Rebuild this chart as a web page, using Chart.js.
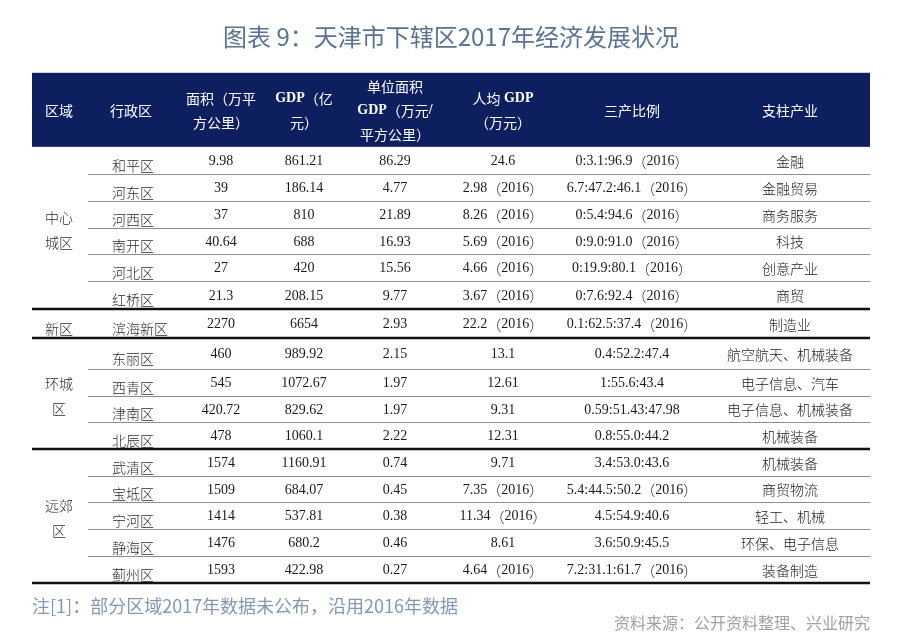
<!DOCTYPE html>
<html><head><meta charset="utf-8">
<script src="https://cdn.jsdelivr.net/npm/chart.js@4"></script>
<style>html,body{margin:0;padding:0;background:#fff;}#wrap{width:900px;height:643px;position:relative;}</style>
</head><body><div id="wrap"><canvas id="c" width="900" height="643"></canvas></div>
<script>
// ---------- data ----------
const regions = [['中心','城区'], ['新区'], ['环城','区'], ['远郊','区']];
const regionSizes = [6, 1, 4, 5];
const districts = ['和平区','河东区','河西区','南开区','河北区','红桥区','滨海新区','东丽区','西青区','津南区','北辰区','武清区','宝坻区','宁河区','静海区','蓟州区'];
const area = [9.98, 39, 37, 40.64, 27, 21.3, 2270, 460, 545, 420.72, 478, 1574, 1509, 1414, 1476, 1593];
const gdp = [861.21, 186.14, 810, 688, 420, 208.15, 6654, 989.92, 1072.67, 829.62, 1060.1, 1160.91, 684.07, 537.81, 680.2, 422.98];
const gdpPerArea = [86.29, 4.77, 21.89, 16.93, 15.56, 9.77, 2.93, 2.15, 1.97, 1.97, 2.22, 0.74, 0.45, 0.38, 0.46, 0.27];
const gdpPerCapita = [24.6, 2.98, 8.26, 5.69, 4.66, 3.67, 22.2, 13.1, 12.61, 9.31, 12.31, 9.71, 7.35, 11.34, 8.61, 4.64];
const perCapitaYear2016 = [false, true, true, true, true, true, true, false, false, false, false, false, true, true, false, true];
const industryRatio = ['0:3.1:96.9（2016）','6.7:47.2:46.1（2016）','0:5.4:94.6（2016）','0:9.0:91.0（2016）','0:19.9:80.1（2016）','0:7.6:92.4（2016）','0.1:62.5:37.4（2016）','0.4:52.2:47.4','1:55.6:43.4','0.59:51.43:47.98','0.8:55.0:44.2','3.4:53.0:43.6','5.4:44.5:50.2（2016）','4.5:54.9:40.6','3.6:50.9:45.5','7.2:31.1:61.7（2016）'];
const pillarIndustry = ['金融','金融贸易','商务服务','科技','创意产业','商贸','制造业','航空航天、机械装备','电子信息、汽车','电子信息、机械装备','机械装备','机械装备','商贸物流','轻工、机械','环保、电子信息','装备制造'];
const headers = [['区域'], ['行政区'], ['面积（万平','方公里）'], ['GDP（亿','元）'], ['单位面积','GDP（万元/','平方公里）'], ['人均 GDP','（万元）'], ['三产比例'], ['支柱产业']];
const titleText = '图表 9：天津市下辖区2017年经济发展状况';
const noteText = '注[1]：部分区域2017年数据未公布，沿用2016年数据';
const sourceText = '资料来源：公开资料整理、兴业研究';

// ---------- layout (scale units) ----------
const L = {
  width: 838, height: 510, headerH: 74,
  colX: [27, 99, 189, 272, 363, 471, 600, 758],
  nameX: 80, thinStart: 56,
  rowEdges: [74,101,128,155,181,208,236,265,296,323,349,376,403,429,456,483,510]
};

const columns = [
  area.map(String),
  gdp.map(String),
  gdpPerArea.map(String),
  gdpPerCapita.map((v, i) => String(v) + (perCapitaYear2016[i] ? '（2016）' : '')),
  industryRatio,
  pillarIndustry
];
const mid = i => (L.rowEdges[i] + L.rowEdges[i + 1]) / 2;

const datasets = [];
datasets.push({ label: 'districts', texts: districts, kind: 'name',
  data: districts.map((d, i) => ({ x: L.nameX, y: mid(i) })) });
columns.forEach((col, c) => datasets.push({ label: 'col' + c, texts: col, kind: 'value',
  data: col.map((v, i) => ({ x: L.colX[c + 2], y: mid(i) })) }));
let start = 0; const regionPts = [];
regionSizes.forEach(n => { regionPts.push({ x: L.colX[0], y: (L.rowEdges[start] + L.rowEdges[start + n]) / 2 }); start += n; });
datasets.push({ label: 'regions', texts: regions, kind: 'region', data: regionPts });
datasets.push({ label: 'headers', texts: headers, kind: 'header',
  data: headers.map((h, c) => ({ x: L.colX[c], y: L.headerH / 2 })) });
datasets.forEach(d => { d.pointRadius = 0; d.pointHoverRadius = 0; d.showLine = false; });

const SERIF = '"Liberation Serif", serif';
const CJK = '"Noto Sans CJK SC", "Noto Sans", sans-serif';

function drawMixed(ctx, text, x, y, align, latinFont, cjkFont) {
  const runs = [];
  const re = /[\u2E80-\u9FFF\uFF00-\uFFEF\u3000-\u303F]+|[^\u2E80-\u9FFF\uFF00-\uFFEF\u3000-\u303F]+/g;
  let m;
  while ((m = re.exec(text))) {
    const isCjk = /[\u2E80-\u9FFF\uFF00-\uFFEF\u3000-\u303F]/.test(m[0]);
    runs.push({ t: m[0], f: isCjk ? cjkFont : latinFont });
  }
  let total = 0;
  runs.forEach(r => { ctx.font = r.f; r.w = ctx.measureText(r.t).width; total += r.w; });
  let cx = align === 'center' ? x - total / 2 : (align === 'right' ? x - total : x);
  ctx.textAlign = 'left';
  runs.forEach(r => { ctx.font = r.f; ctx.fillText(r.t, cx, y); cx += r.w; });
}

const tablePlugin = {
  id: 'tablePlugin',
  beforeDatasetsDraw(chart) {
    const { ctx, scales: { x, y } } = chart;
    const x0 = x.getPixelForValue(0), x1 = x.getPixelForValue(L.width);
    ctx.save();
    ctx.fillStyle = '#0e1f5f';
    const hy0 = y.getPixelForValue(0), hy1 = y.getPixelForValue(L.headerH);
    ctx.fillRect(x0, hy0, x1 - x0, hy1 - hy0);
    const groupEnds = new Set(); let s = 0;
    regionSizes.forEach(n => { s += n; groupEnds.add(s); });
    for (let i = 1; i < L.rowEdges.length; i++) {
      const py = Math.round(y.getPixelForValue(L.rowEdges[i]));
      if (groupEnds.has(i)) {
        ctx.strokeStyle = '#111'; ctx.lineWidth = 2.5;
        ctx.beginPath(); ctx.moveTo(x0, py); ctx.lineTo(x1, py); ctx.stroke();
      } else {
        ctx.strokeStyle = '#8e8e8e'; ctx.lineWidth = 1;
        ctx.beginPath(); ctx.moveTo(x.getPixelForValue(L.thinStart), py + 0.5); ctx.lineTo(x1, py + 0.5); ctx.stroke();
      }
    }
    ctx.restore();
  },
  afterDatasetsDraw(chart) {
    const { ctx } = chart;
    ctx.save();
    ctx.textBaseline = 'middle';
    const bodyLatin = '14px ' + SERIF, bodyCjk = '300 14px ' + CJK;
    chart.data.datasets.forEach((ds, di) => {
      const meta = chart.getDatasetMeta(di);
      meta.data.forEach((pt, i) => {
        const t = ds.texts[i];
        if (ds.kind === 'name') {
          ctx.fillStyle = '#2a2a2a';
          drawMixed(ctx, t, pt.x, pt.y + 5, 'left', bodyLatin, bodyCjk);
        } else if (ds.kind === 'value') {
          ctx.fillStyle = '#1a1a1a';
          drawMixed(ctx, t, pt.x, pt.y + 1, 'center', bodyLatin, bodyCjk);
        } else if (ds.kind === 'region') {
          ctx.fillStyle = '#2a2a2a';
          if (t.length === 1) drawMixed(ctx, t[0], pt.x, pt.y + 5, 'center', bodyLatin, bodyCjk);
          else {
            drawMixed(ctx, t[0], pt.x, pt.y - 10, 'center', bodyLatin, bodyCjk);
            drawMixed(ctx, t[1], pt.x, pt.y + 15, 'center', bodyLatin, bodyCjk);
          }
        } else if (ds.kind === 'header') {
          ctx.fillStyle = '#ffffff';
          const lh = 24, n = t.length;
          t.forEach((line, k) => drawMixed(ctx, line, pt.x, pt.y + (k - (n - 1) / 2) * lh + 1, 'center',
            'bold 14px ' + SERIF, 'normal 14px ' + CJK));
        }
      });
    });
    const x0 = chart.scales.x.getPixelForValue(0), x1 = chart.scales.x.getPixelForValue(L.width);
    ctx.font = 'normal 18px ' + CJK; ctx.fillStyle = '#8497b3'; ctx.textAlign = 'left';
    ctx.fillText(noteText, x0, 606);
    ctx.font = 'normal 16px ' + CJK; ctx.fillStyle = '#a0a0a0'; ctx.textAlign = 'right';
    ctx.fillText(sourceText, x1, 623);
    ctx.restore();
  }
};

new Chart(document.getElementById('c'), {
  type: 'scatter',
  data: { datasets },
  options: {
    responsive: false, animation: false, events: [],
    layout: { padding: { left: 32, right: 30, top: 0, bottom: 60 } },
    scales: {
      x: { type: 'linear', min: 0, max: L.width, display: false },
      y: { type: 'linear', min: 0, max: L.height, reverse: true, display: false }
    },
    plugins: {
      legend: { display: false }, tooltip: { enabled: false },
      title: { display: true, text: titleText, color: '#5b7293',
        font: { size: 24, family: CJK, weight: 'normal', lineHeight: 1.2 },
        padding: { top: 22, bottom: 22 } }
    }
  },
  plugins: [tablePlugin]
});
</script></body></html>
